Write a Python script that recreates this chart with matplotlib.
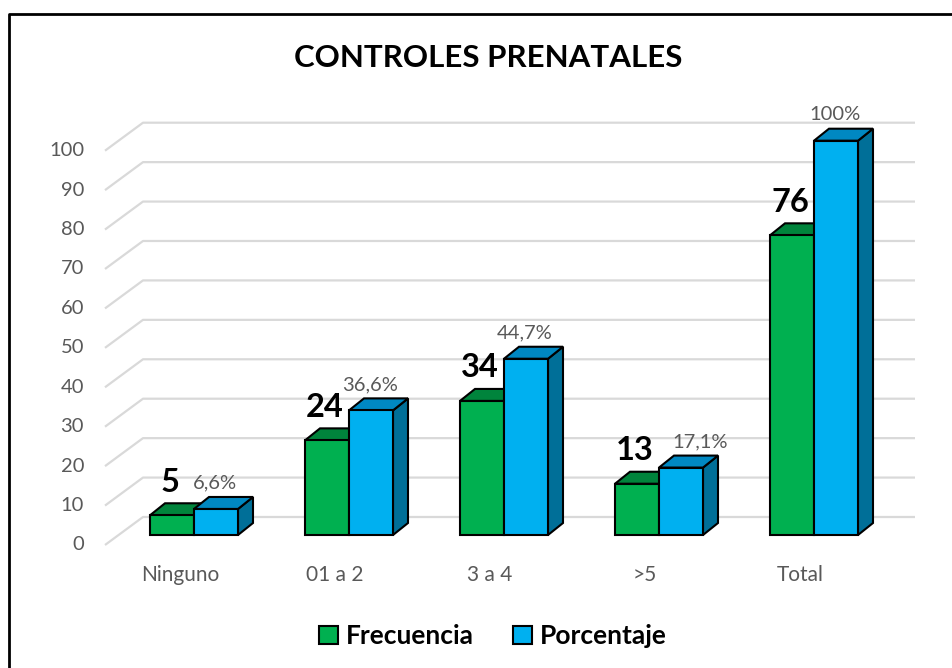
import matplotlib
matplotlib.use("Agg")
import matplotlib.pyplot as plt
from matplotlib.patches import Polygon, Patch
from matplotlib.lines import Line2D

# ---------------- data ----------------
categories = ["Ninguno", "01 a 2", "3 a 4", ">5", "Total"]
frecuencia = [5, 24, 34, 13, 76]
porcentaje = [6.6, 31.6, 44.7, 17.1, 100]
porcentaje_labels = ["6,6%", "36,6%", "44,7%", "17,1%", "100%"]
frecuencia_labels = ["5", "24", "34", "13", "76"]
yticks = list(range(0, 101, 10))
title = "CONTROLES PRENATALES"
series_names = ["Frecuencia", "Porcentaje"]

# ---------------- style ----------------
plt.rcParams['font.family'] = ['Lato', 'DejaVu Sans']
GREEN, GREEN_TOP = "#00B050", "#00843C"
BLUE, BLUE_TOP, BLUE_SIDE = "#00B0F0", "#0088C2", "#006F98"
GRID = "#D9D9D9"
TXT = "#595959"

W, H = 952, 668
fig = plt.figure(figsize=(W / 100, H / 100), dpi=100)
ax = fig.add_axes([0, 0, 1, 1])

PX_X = 155.0   # pixels per category
PX_Y = 3.943   # pixels per value unit
X0 = 194       # pixel x of category 0 centre
Y0 = 535       # pixel y (from top) of value 0 on bar plane
ax.set_xlim((0 - X0) / PX_X, (W - X0) / PX_X)
ax.set_ylim((Y0 - H) / PX_Y, Y0 / PX_Y)
ax.axis('off')


def dx(p):
    return p / PX_X


def dy(p):
    return p / PX_Y


def px2x(p):
    return (p - X0) / PX_X


# gridlines (floor-depth perspective)
for v in yticks:
    ax.plot([px2x(105), px2x(143), px2x(915)],
            [v - dy(10), v + dy(18), v + dy(18)],
            color=GRID, lw=1.6, zorder=0, solid_capstyle='butt')
    ax.text(px2x(84), v - dy(10), str(v), ha='right', va='center',
            fontsize=14.5, color=TXT)

# label nudges (pixels) for percentage labels
pct_label_nudge = {3: 20}

# bars
w = dx(44)
ddx, ddy = dx(15), dy(12)
EC = "black"
LW = 1.5
z = 2
for i, (f, p) in enumerate(zip(frecuencia, porcentaje)):
    for xl, h, front, top, side in [(i - w, f, GREEN, GREEN_TOP, GREEN_TOP),
                                    (i, p, BLUE, BLUE_TOP, BLUE_SIDE)]:
        xr = xl + w
        ax.add_patch(Polygon([(xr, 0), (xr + ddx, ddy), (xr + ddx, h + ddy), (xr, h)],
                             closed=True, fc=side, ec=EC, lw=LW, zorder=z))
        ax.add_patch(Polygon([(xl, h), (xr, h), (xr + ddx, h + ddy), (xl + ddx, h + ddy)],
                             closed=True, fc=top, ec=EC, lw=LW, zorder=z))
        ax.bar(xl, h, width=w, align='edge', color=front, edgecolor=EC,
               linewidth=LW, zorder=z + 0.5)
        z += 1
    ax.text(i - w / 2 - dx(2), f + dy(33), frecuencia_labels[i], ha='center', va='center',
            fontsize=23.5, fontweight='bold', color='black', zorder=20)
    ax.text(i + w / 2 + dx(pct_label_nudge.get(i, 0)) - dx(1), p + dy(26),
            porcentaje_labels[i], ha='center', va='center',
            fontsize=14.5, color=TXT, zorder=20)
    ax.text(i - dx(14), -dy(40), categories[i], ha='center', va='center',
            fontsize=15, color=TXT)

# title
fig.text(488 / W, 1 - 58 / H, title, ha='center', va='center',
         fontsize=22.5, fontweight='bold', color='black')

# legend
handles = [Patch(facecolor=GREEN, edgecolor='black', lw=1.5),
           Patch(facecolor=BLUE, edgecolor='black', lw=1.5)]
leg = fig.legend(handles, series_names, loc='center', ncol=2,
                 bbox_to_anchor=(493 / W, 1 - 636 / H), frameon=False,
                 handlelength=0.7, handleheight=0.7, handletextpad=0.3,
                 columnspacing=1.5, prop={'weight': 'bold', 'size': 19})

# outer border (top and left)
fig.add_artist(Line2D([9 / W, 9 / W, 1], [0, 1 - 14 / H, 1 - 14 / H],
                      transform=fig.transFigure, color='black', lw=2))

fig.savefig("out.png", dpi=100)
